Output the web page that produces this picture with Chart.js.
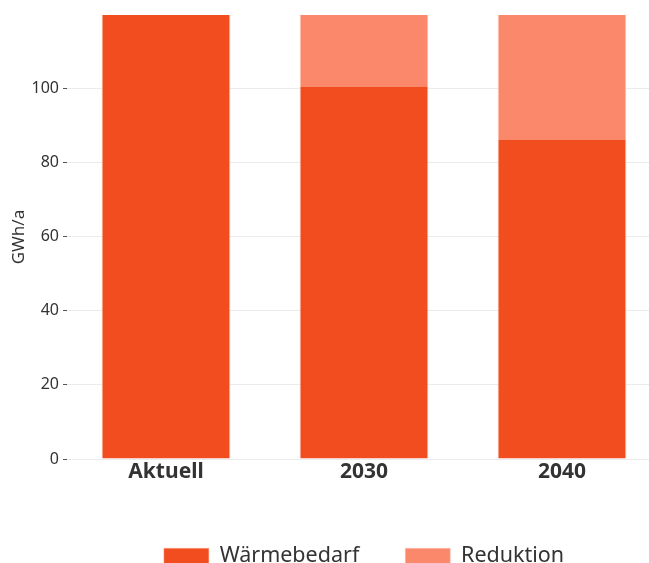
<!DOCTYPE html>
<html><head><meta charset="utf-8">
<script src="https://cdn.jsdelivr.net/npm/chart.js@4"></script>
<style>
html,body{margin:0;padding:0;background:#fff;overflow:hidden;}
#wrap{width:649px;height:563px;overflow:hidden;position:relative;}
#c{position:absolute;left:0;top:0;}
</style></head>
<body><div id="wrap"><canvas id="c" width="661" height="577"></canvas></div>
<script>
const categories = ["Aktuell", "2030", "2040"];
const waermebedarf = [119.7, 100.3, 86.0];
const reduktion = [0, 19.4, 33.7];
const yTicks = [0, 20, 40, 60, 80, 100];
const seriesNames = ["Wärmebedarf", "Reduktion"];

const FONT = "'Noto Sans', sans-serif";
const ctx = document.getElementById('c');
new Chart(ctx, {
  type: 'bar',
  data: {
    labels: categories,
    datasets: [
      {label: seriesNames[0], data: waermebedarf, backgroundColor: 'rgba(240,62,12,0.92)', borderColor: 'rgba(250,175,155,0.9)', borderWidth: {left: 1, right: 1, top: 0, bottom: 0}, borderSkipped: false, barPercentage: 0.65, categoryPercentage: 1.0},
      {label: seriesNames[1], data: reduktion, backgroundColor: 'rgba(252,126,96,0.92)', borderColor: 'rgba(252,195,180,0.9)', borderWidth: {left: 1, right: 1, top: 0, bottom: 0}, borderSkipped: false, barPercentage: 0.65, categoryPercentage: 1.0}
    ]
  },
  options: {
    responsive: false,
    animation: false,
    layout: {padding: {top: 15, left: 0, right: 0, bottom: 0}},
    plugins: {
      tooltip: {enabled: false},
      legend: {
        position: 'bottom',
        fullSize: false,
        labels: {
          boxWidth: 45, boxHeight: 16, padding: 46,
          color: '#333', font: {family: FONT, size: 21.5}
        }
      }
    },
    scales: {
      x: {
        stacked: true,
        grid: {display: false, drawTicks: false},
        border: {display: false},
        afterFit: (axis) => { axis.height = 40.4; },
        ticks: {color: '#333', font: {family: FONT, size: 21, weight: 'bold'}, padding: 0}
      },
      y: {
        stacked: true,
        min: 0, max: 119.7,
        afterBuildTicks: (axis) => { axis.ticks = yTicks.map(v => ({value: v})); },
        afterFit: (axis) => { axis.width = 67; },
        grid: {color: '#ebebeb', tickColor: '#555', tickLength: 4, drawTicks: true},
        border: {display: false},
        ticks: {color: '#333', font: {family: FONT, size: 16}, padding: 4},
        title: {display: true, text: 'GWh/a', color: '#333', font: {family: FONT, size: 17}, padding: {top: 9, bottom: 0}}
      }
    }
  }
});
</script></body></html>
